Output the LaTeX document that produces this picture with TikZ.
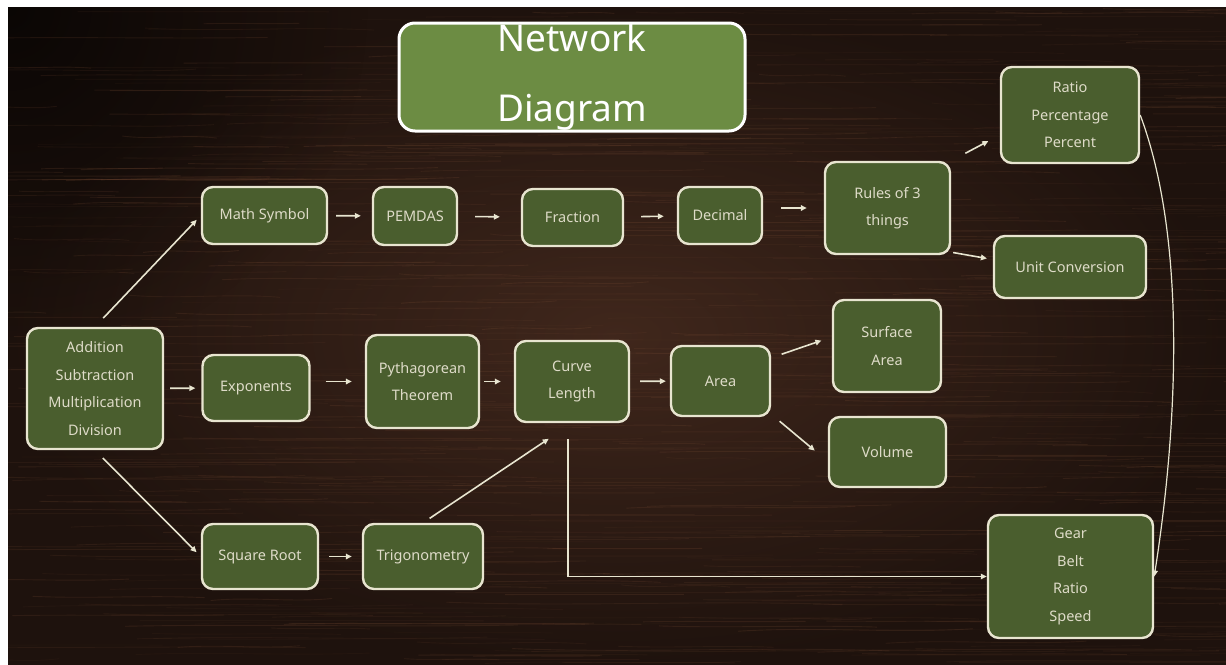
\documentclass[tikz,border=0pt]{standalone}
\usepackage{fontspec}
\setmainfont{Noto Sans}
\usepackage{tikz}
\usetikzlibrary{calc, arrows.meta, fadings}
\usepackage{xcolor}
\definecolor{woodDark}{RGB}{30, 18, 13}
\definecolor{woodMid}{RGB}{64, 39, 28}
\definecolor{woodGrain}{RGB}{120, 76, 52}
\definecolor{boxGreen}{RGB}{74, 94, 46}
\definecolor{titleGreen}{RGB}{108, 140, 67}
\definecolor{chalk}{RGB}{232, 229, 208}

\tikzfading[name=cornerfade, inner color=transparent!35, outer color=transparent!100]

\tikzset{
  topic/.style={draw=chalk, line width=2.4pt, fill=boxGreen, rounded corners=11pt,
    text=chalk!90!gray, align=center, inner sep=0pt,
    font=\fontsize{14.5}{27.5}\selectfont},
  link/.style={-{Triangle[length=6pt,width=5.5pt]}, chalk, line width=1.6pt},
  grain/.style={woodGrain, line width=0.9pt},
}

\begin{document}
\begin{tikzpicture}[x=1pt, y=-1pt]
  \useasboundingbox (0,0) rectangle (1226,664);
  \fill[white] (0,0) rectangle (1226,664);

  % wooden board
  \shade[inner color=woodMid, outer color=woodDark] (8,7) rectangle (1226,664);
  \begin{scope}
    \clip (8,7) rectangle (1226,664);
    \fill[black, path fading=cornerfade] (8,7) circle (360);
    \pgfmathsetseed{11}
    \foreach \i in {1,...,650}{
      \pgfmathsetmacro{\gx}{rnd*1300-60}
      \pgfmathsetmacro{\gy}{rnd*664}
      \pgfmathsetmacro{\gl}{80+rnd*320}
      \pgfmathsetmacro{\gb}{rnd*10-5}
      \pgfmathsetmacro{\go}{0.05+0.18*rnd}
      \draw[grain, opacity=\go] (\gx,\gy) .. controls +(\gl/3,\gb) and +(-\gl/3,-\gb) .. +(\gl,\gb/2);
    }
  \end{scope}

  % title
  \node[topic, fill=titleGreen, draw=white, line width=3pt, rounded corners=16pt,
    text=white, font=\fontsize{37}{70}\selectfont,
    minimum width=346pt, minimum height=108pt] (title) at (572,77) {Network\\Diagram};

  % top row
  \node[topic, minimum width=125pt, minimum height=57pt] (mathsym) at (264.5,215.5) {Math Symbol};
  \node[topic, minimum width=84pt, minimum height=58pt] (pemdas) at (415,216) {PEMDAS};
  \node[topic, minimum width=101pt, minimum height=57pt] (fraction) at (572.5,217.5) {Fraction};
  \node[topic, minimum width=84pt, minimum height=57pt] (decimal) at (720,215.5) {Decimal};
  \node[topic, minimum width=125pt, minimum height=92pt] (rules) at (887.5,208) {Rules of 3\\things};
  \node[topic, minimum width=138pt, minimum height=96pt] (ratio) at (1070,115) {Ratio\\Percentage\\Percent};
  \node[topic, minimum width=152pt, minimum height=62pt] (unitconv) at (1070,267) {Unit Conversion};

  % middle row
  \node[topic, minimum width=136pt, minimum height=121pt] (basic) at (95,388.5) {Addition\\Subtraction\\Multiplication\\Division};
  \node[topic, minimum width=107pt, minimum height=66pt] (expo) at (256,388) {Exponents};
  \node[topic, minimum width=113pt, minimum height=93pt] (pyth) at (422.5,381.5) {Pythagorean\\Theorem};
  \node[topic, minimum width=114pt, minimum height=81pt] (curve) at (572,381.5) {Curve\\Length};
  \node[topic, minimum width=99pt, minimum height=70pt] (area) at (720.5,381) {Area};
  \node[topic, minimum width=108pt, minimum height=92pt] (surface) at (887,346) {Surface\\Area};
  \node[topic, minimum width=117pt, minimum height=70pt] (volume) at (887.5,452) {Volume};

  % bottom row
  \node[topic, minimum width=116pt, minimum height=65pt] (sqroot) at (260,556.5) {Square Root};
  \node[topic, minimum width=120pt, minimum height=65pt] (trig) at (423,556.5) {Trigonometry};
  \node[topic, minimum width=165pt, minimum height=123pt] (gear) at (1070.5,576.5) {Gear\\Belt\\Ratio\\Speed};

  % connectors
  \draw[link, shorten <=12pt, shorten >=6pt] (basic.north) -- (mathsym.west);
  \draw[link, shorten <=11pt, shorten >=6pt] (basic.south) -- (sqroot.west);
  \draw[link, shorten <=6pt, shorten >=6pt] (basic) -- (expo);
  \draw[link, shorten <=15pt, shorten >=13pt] (pyth.west -| expo.east) -- (pyth.west);
  \draw[link, shorten <=4pt, shorten >=13pt] (pyth) -- (curve);
  \draw[link, shorten <=10pt, shorten >=4pt] (curve) -- (area);

  \draw[link, shorten <=8pt, shorten >=11pt] (mathsym) -- (pemdas);
  \draw[link, shorten <=17pt, shorten >=21pt] (pemdas) -- (fraction);
  \draw[link, shorten <=17pt, shorten >=13pt] (fraction) -- (decimal);
  \draw[link, shorten <=18pt, shorten >=17pt] (rules.west -| decimal.east) -- (rules.west);
  \draw[link, shorten <=16pt, shorten >=13pt] (rules.north east) -- ([yshift=-20pt]ratio.west);
  \draw[link, shorten <=2pt, shorten >=6pt] ([yshift=3pt]rules.south east) -- ([yshift=7.5pt]unitconv.west);

  \draw[link, shorten <=11pt, shorten >=11pt] ([yshift=-13pt]area.north east) -- ([yshift=9pt]surface.west);
  \draw[link, shorten <=11pt, shorten >=17pt] ([yshift=3pt]area.south east) -- ([yshift=-9.5pt]volume.west);

  \draw[link, shorten <=10pt, shorten >=10pt] (sqroot) -- (trig);
  \draw[link, shorten <=8pt, shorten >=28pt] (trig.north) -- (curve.south);

  \draw[link, line width=1.3pt, shorten <=16pt] ([xshift=-4pt]curve.south) |- (gear.west);
  \draw[link, line width=1.2pt] (ratio.east) .. controls +(45,120) and +(25,-160) .. (gear.east);
\end{tikzpicture}
\end{document}
